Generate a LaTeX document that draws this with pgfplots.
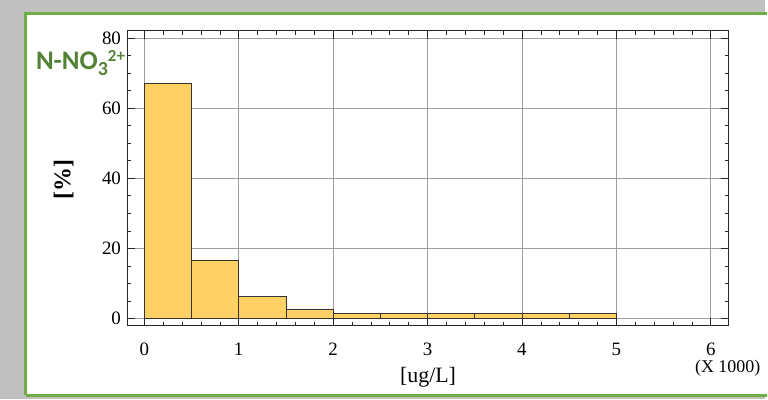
\documentclass[border=0pt]{standalone}
\usepackage{fontspec}
\setmainfont{Liberation Serif}
\newfontfamily\titlefont{Carlito}
\usepackage{pgfplots}
\pgfplotsset{compat=1.18}

\definecolor{bggray}{HTML}{C0C0C0}
\definecolor{frameGreen}{HTML}{70AD47}
\definecolor{titleGreen}{HTML}{548235}
\definecolor{barfill}{HTML}{FDD163}

\begin{document}
\begin{tikzpicture}[x=1pt,y=1pt]
  % background and panel
  \fill[bggray] (0,0) rectangle (768,401);
  \fill[white] (26,4) rectangle (770,387);
  \draw[frameGreen, line width=3pt] (26,4) -- (26,387) -- (770,387);
  \draw[frameGreen, line width=3pt] (26,4) -- (770,4);
  \useasboundingbox (0,0) rectangle (768,401);

  \begin{axis}[
    at={(128pt,74pt)}, anchor=south west,
    scale only axis, width=604pt, height=296pt,
    xmin=-0.179, xmax=6.19, ymin=-2, ymax=82,
    xtick={0,1,2,3,4,5,6}, ytick={0,20,40,60,80},
    minor x tick num=4, minor y tick num=3,
    tick align=inside,
    major tick length=8pt, minor tick length=4pt,
    tick style={black!85, line width=0.6pt},
    grid=major,
    major grid style={gray!75, line width=0.7pt},
    axis line style={black!85, line width=0.9pt},
    /pgf/number format/assume math mode=true,
    tick label style={font=\fontsize{19}{19}\selectfont},
    xticklabel style={yshift=-14pt},
    yticklabel style={xshift=-3pt},
  ]
    \addplot[ybar interval, fill=barfill, draw=black!80, line width=0.7pt]
      coordinates {(0,67) (0.5,16.5) (1,6.3) (1.5,2.75) (2,1.5) (2.5,1.5)
                   (3,1.5) (3.5,1.5) (4,1.5) (4.5,1.5) (5,0)};
  \end{axis}

  % labels
  \node[rotate=90, font=\fontsize{24}{24}\selectfont\bfseries] at (64,221) {[\%]};
  \node[font=\fontsize{22}{22}\selectfont] at (430,22) {[ug/L]};
  \node[font=\fontsize{18}{18}\selectfont] at (731,31) {(X 1000)};
  \node[anchor=base west, inner sep=0pt, text=titleGreen,
        font=\titlefont\fontsize{27}{27}\selectfont\bfseries] at (36,331)
        {N-NO\raisebox{-0.2em}{\fontsize{20}{20}\selectfont 3}\raisebox{0.3em}{\fontsize{17}{17}\selectfont 2+}};
\end{tikzpicture}
\end{document}
